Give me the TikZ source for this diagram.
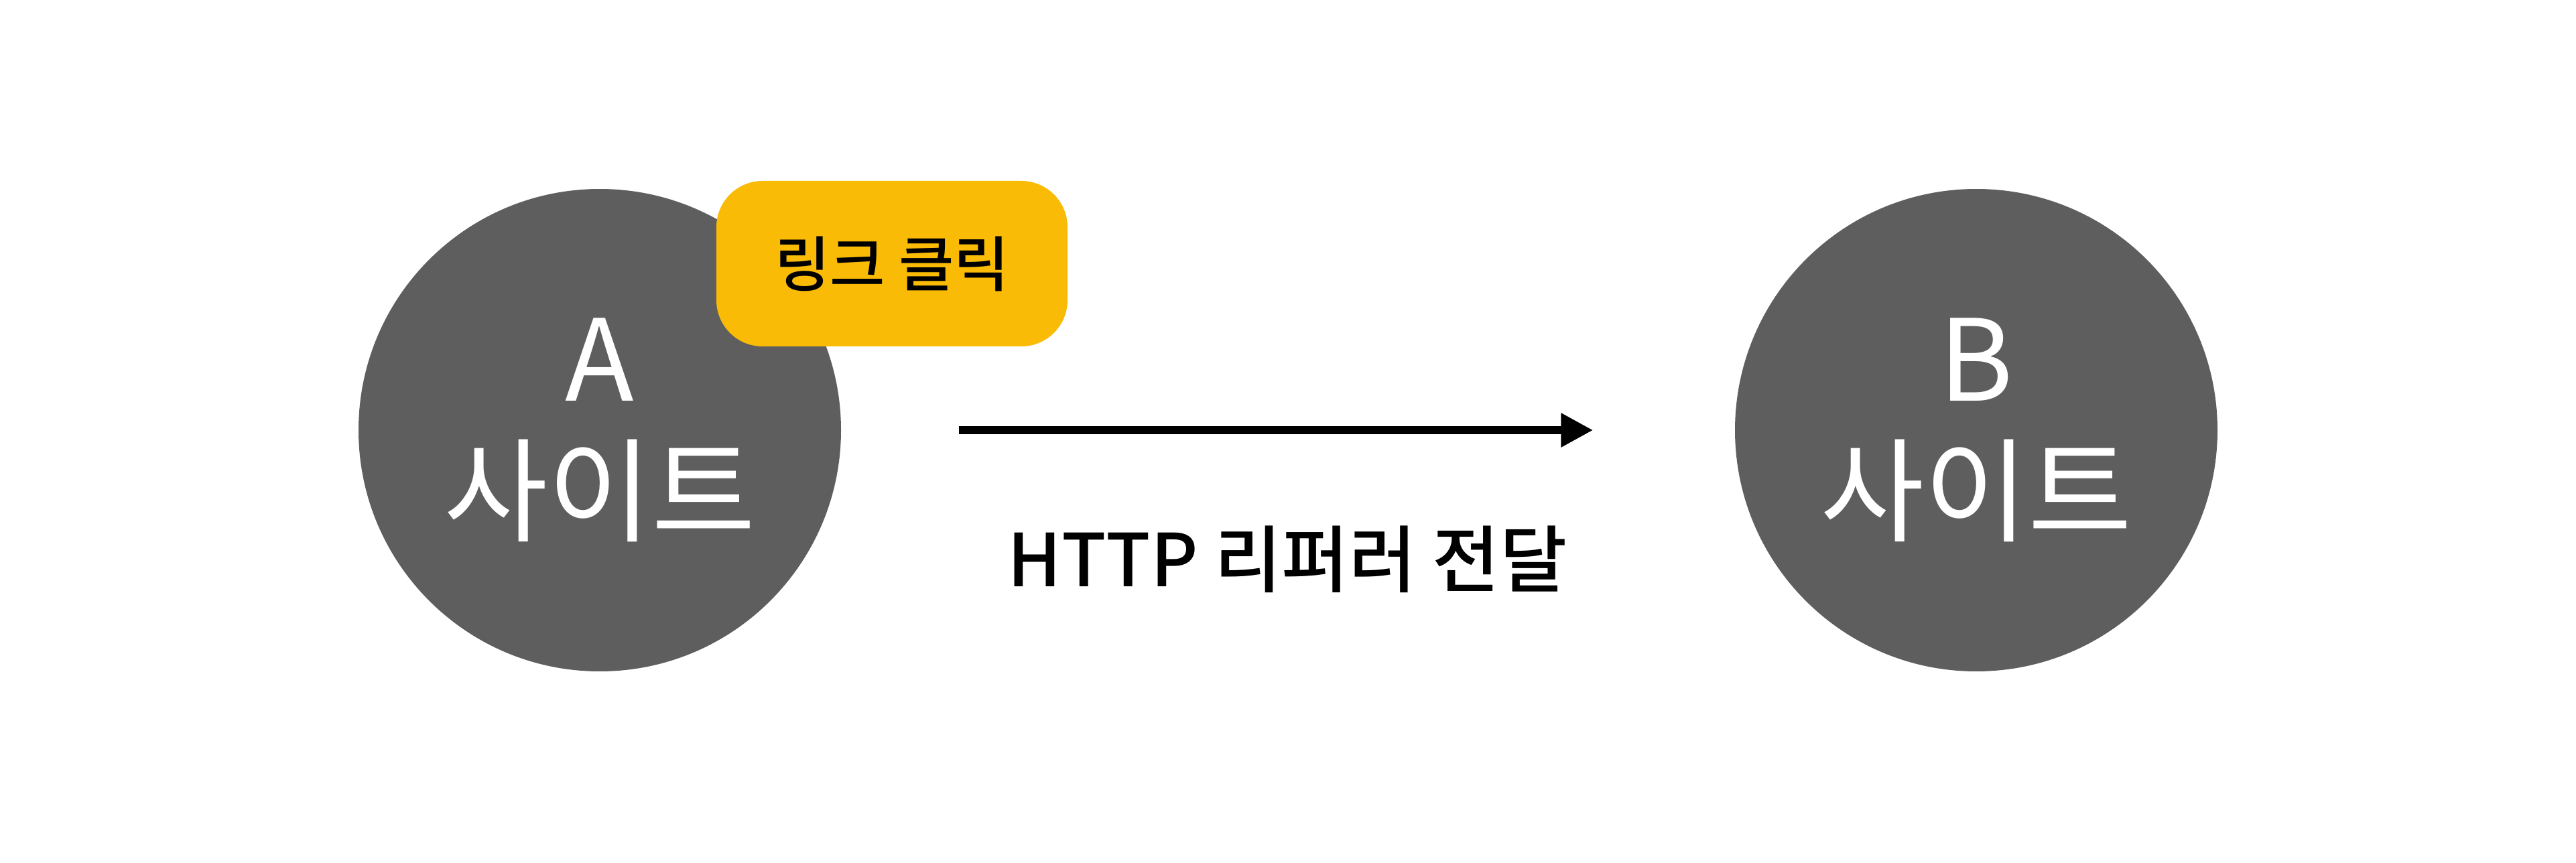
\documentclass[tikz,border=0pt]{standalone}
\usepackage{fontspec}
\setmainfont{Noto Sans CJK KR}
\newfontfamily\medfont{Noto Sans CJK KR Medium}
\usetikzlibrary{positioning,arrows.meta}
\definecolor{sitegray}{RGB}{94,94,94}
\definecolor{clickyellow}{RGB}{249,187,5}

\tikzset{
  site/.style={circle,fill=sitegray,minimum size=7.2cm,inner sep=0pt,
               text=white,align=center,font=\fontsize{48}{56}\selectfont},
  clickbox/.style={fill=clickyellow,rounded corners=0.69cm,minimum width=5.24cm,
                   minimum height=2.47cm,inner sep=0pt,
                   font=\medfont\fontsize{25.5}{30}\selectfont},
  referrer/.style={-{Triangle[length=0.48cm,width=0.48cm]},line width=0.12cm},
  flowlabel/.style={font=\medfont\fontsize{31}{36}\selectfont}
}

\begin{document}
\begin{tikzpicture}
        \useasboundingbox (0,0) rectangle (38.44,-12.88);
        % two sites
        \node[site] (siteA) at (8.95,-6.42) {A\\사이트};
        \node[site] (siteB) at (29.49,-6.42) {B\\사이트};
        % click badge on A
        \node[clickbox] (click) at (13.31,-3.935) {링크 클릭};
        % referrer sent
        \draw[referrer,shorten <=1.75cm,shorten >=2.11cm] (siteA) -- (siteB);
        \node[flowlabel] (reflabel) at (19.21,-8.35) {HTTP 리퍼러 전달};
      \end{tikzpicture}
\end{document}
